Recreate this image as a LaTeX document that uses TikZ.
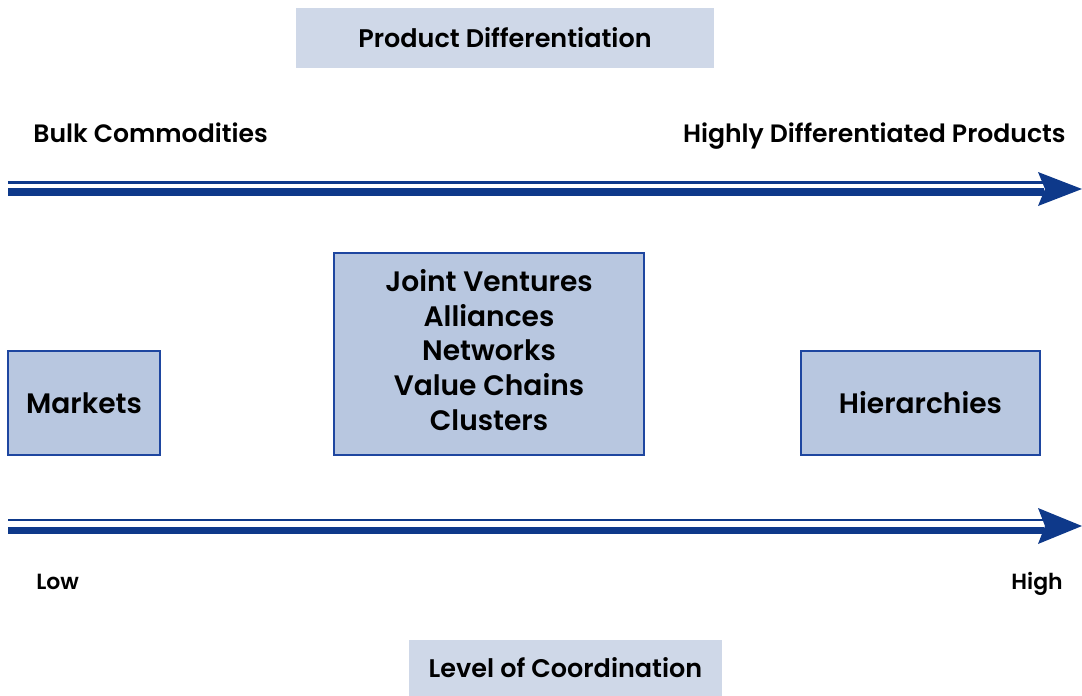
\documentclass[tikz,border=0pt]{standalone}
\usepackage{fontspec}
\setmainfont{Poppins}[BoldFont={Poppins SemiBold}]
\usetikzlibrary{arrows.meta,positioning}
\definecolor{arrowblue}{RGB}{14,57,138}
\definecolor{boxfill}{RGB}{184,199,224}
\definecolor{boxline}{RGB}{30,70,160}
\definecolor{titlefill}{RGB}{207,216,232}

\tikzset{
  titlebox/.style={fill=titlefill, inner sep=0pt, font=\fontsize{14.5}{16}\selectfont\bfseries},
  formbox/.style={fill=boxfill, draw=boxline, line width=0.6pt, inner sep=0pt, align=center,
    font=\fontsize{16}{19.8}\selectfont\bfseries},
  endlabel/.style={inner sep=0pt, font=\fontsize{14.3}{16}\selectfont\bfseries},
  scalelabel/.style={inner sep=0pt, font=\fontsize{12.5}{14}\selectfont\bfseries},
  thinshaft/.style={arrowblue, line width=1.5pt},
  thickshaft/.style={arrowblue, line width=4.4pt},
}

\begin{document}
\begin{tikzpicture}[x=0.02cm, y=-0.02cm]
\useasboundingbox (0,0) rectangle (1082,696);

% headings
\node[titlebox, minimum width=418*0.02cm, minimum height=60*0.02cm] (proddiff) at (505,38) {Product Differentiation};
\node[endlabel, anchor=base west] (bulk) at (33,143) {Bulk Commodities};
\node[endlabel, anchor=base east] (highdiff) at (1066,143) {Highly Differentiated Products};

% upper arrow
\coordinate (ua) at (8,182.5);
\coordinate (ub) at (1044,182.5);
\coordinate (uc) at (8,192);
\coordinate (ud) at (1044,192);
\draw[thinshaft] (ua) -- (ub);
\draw[thickshaft] (uc) -- (ud);
\fill[arrowblue] (1038,172) -- (1082,189) -- (1038,206) -- (1045,189) -- cycle;

% forms of coordination
\node[formbox, minimum width=152*0.02cm, minimum height=104*0.02cm] (markets) at (84,403) {Markets};
\node[formbox, minimum width=310*0.02cm, minimum height=202*0.02cm] (hybrid) at (489,354) {};
\node[align=center, inner sep=0pt, font=\fontsize{16}{19.8}\selectfont\bfseries] (hybridtext) at (489,350)
  {Joint Ventures\\Alliances\\Networks\\Value Chains\\Clusters};
\node[formbox, minimum width=239*0.02cm, minimum height=104*0.02cm] (hierarchies) at (920.5,403) {Hierarchies};

% lower arrow
\coordinate (la) at (8,520);
\coordinate (lb) at (1044,520);
\coordinate (lc) at (8,530.5);
\coordinate (ld) at (1044,530.5);
\draw[thinshaft] (la) -- (lb);
\draw[thickshaft] (lc) -- (ld);
\fill[arrowblue] (1038,508) -- (1082,526) -- (1038,544) -- (1045,526) -- cycle;

\node[scalelabel, anchor=base west] (low) at (36,589) {Low};
\node[scalelabel, anchor=base east] (high) at (1063,589) {High};

\node[titlebox, minimum width=313*0.02cm, minimum height=56*0.02cm] (coord) at (565.5,668) {Level of Coordination};
\end{tikzpicture}
\end{document}
